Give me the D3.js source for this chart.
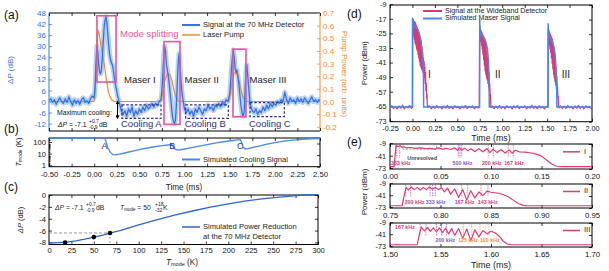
<!DOCTYPE html>
<html><head><meta charset="utf-8">
<script src="https://cdn.jsdelivr.net/npm/d3@7"></script>
<style>body{margin:0;background:#fff} svg{display:block;font-family:"Liberation Sans",Arial,Helvetica,sans-serif}</style>
</head><body><svg id="c" width="609" height="271"></svg>
<script>
// ---------------- DATA ----------------
// (a) 70 MHz detector signal [time ms, dB]
const sigA = [
[-0.50,0.5],[-0.48,1.5],[-0.46,-0.5],[-0.44,1],[-0.42,-1.5],[-0.40,0.5],[-0.38,2],[-0.36,0],[-0.34,-1],[-0.32,1.5],[-0.30,-0.5],[-0.28,2.5],[-0.26,0],[-0.24,-2],[-0.22,1],[-0.20,-1],[-0.18,0.5],[-0.16,-1.5],[-0.14,1],[-0.12,2],[-0.10,-0.5],[-0.08,0.5],[-0.06,-1],[-0.04,1.5],[-0.02,3],[0.00,2],
[0.01,8],[0.02,20],[0.03,30],[0.04,27],[0.05,20],[0.06,16],[0.07,15],[0.08,17],[0.09,24],[0.10,32],[0.11,40],[0.12,44],[0.13,46],[0.14,43],[0.15,37],[0.16,31],[0.17,26],[0.18,23],[0.19,21],[0.20,20],[0.21,18],[0.22,14],[0.24,8],[0.26,3],[0.28,-1],[0.30,-5],[0.32,-7],
[0.34,-5],[0.36,-8],[0.38,-4],[0.40,-6],[0.42,-3],[0.44,-8],[0.46,-5],[0.48,-7],[0.50,-4],[0.52,-6],[0.54,-3],[0.56,-5],[0.58,-2],[0.60,-4],[0.62,-3],[0.64,-1],[0.66,-3],[0.68,-1],[0.70,-2],[0.72,0],[0.74,1],
[0.75,6],[0.76,15],[0.77,24],[0.78,30],[0.79,27],[0.80,20],[0.81,17],[0.82,14],[0.83,10],[0.84,5],[0.85,0],[0.86,-5],[0.87,-9],[0.88,-11],[0.89,-12],[0.90,-10],[0.91,-2],[0.92,10],[0.93,20],[0.94,26],[0.95,20],[0.96,12],[0.97,6],[0.98,2],[0.99,-1],[1.00,-4],
[1.02,-6],[1.04,-4],[1.06,-7],[1.08,-5],[1.10,-8],[1.12,-4],[1.14,-6],[1.16,-3],[1.18,-5],[1.20,-7],[1.22,-4],[1.24,-5],[1.26,-2],[1.28,-4],[1.30,-3],[1.32,-5],[1.34,-2],[1.36,-3],[1.38,-1],[1.40,-3],[1.42,0],[1.44,-2],[1.46,1],[1.48,0],
[1.50,4],[1.51,10],[1.52,18],[1.53,24],[1.54,28],[1.55,24],[1.56,18],[1.57,16],[1.58,17],[1.59,14],[1.60,10],[1.61,5],[1.62,0],[1.63,-4],[1.64,-7],[1.65,-8],[1.66,-6],[1.67,5],[1.68,16],[1.69,20],[1.70,14],[1.71,8],[1.72,2],[1.73,-2],[1.75,-5],
[1.77,-6],[1.79,-4],[1.81,-7],[1.83,-5],[1.85,-6],[1.87,-3],[1.89,-5],[1.91,-2],[1.93,-4],[1.95,-1],[1.97,-3],[1.99,-1],[2.01,-2],[2.03,0],[2.05,-1],[2.07,1],[2.09,0],[2.11,5],[2.13,1],[2.15,-1],[2.17,2],[2.19,0],[2.21,1],[2.23,-1],[2.25,2],[2.27,0],[2.29,1.5],[2.31,-0.5],[2.33,2],[2.35,0.5],[2.37,-1],[2.39,1],[2.41,2.5],[2.43,0],[2.45,1],[2.47,-0.5],[2.49,1],[2.50,0.5]];
// (a) laser pump [time ms, arb. units]
const pumpA = [[-0.5,0],[0,0],[0.01,0.07],[0.02,0.26],[0.03,0.44],[0.04,0.54],[0.05,0.555],[0.06,0.51],[0.07,0.47],[0.08,0.42],[0.10,0.35],[0.12,0.25],[0.14,0.15],[0.16,0.07],[0.18,0.03],[0.20,0.01],[0.22,0],[0.74,0],[0.76,0.07],[0.78,0.16],[0.80,0.205],[0.82,0.22],[0.84,0.21],[0.86,0.17],[0.88,0.10],[0.90,0.045],[0.92,0.015],[0.94,0],[1.49,0],[1.51,0.07],[1.53,0.17],[1.55,0.22],[1.57,0.233],[1.59,0.2],[1.61,0.145],[1.63,0.075],[1.65,0.03],[1.67,0.008],[1.69,0],[2.5,0]];
// (a) mode splitting boxes [t0,t1,top,bottom] in dB
const modeBoxes = [[0.031,0.242,46.5,10.6],[0.773,0.95,32.5,-12.4],[1.537,1.68,28.4,-8.3]];
// (a) cooling windows
const coolBoxes = [[0.308,0.74,-1.8,-9.2,'Cooling A'],[1.013,1.485,-1.8,-9.2,'Cooling B'],[1.725,2.105,-0.6,-8.2,'Cooling C']];
const maserLabels = [['Maser I',0.33],['Maser II',1.0],['Maser III',1.72]];
const leftTicksA = [-12,-6,0,6,12,18,24,30,36,42,48];
const rightTicksA = [-0.2,-0.1,0,0.1,0.2,0.3,0.4,0.5,0.6,0.7];
const timeTicks = [-0.5,-0.25,0,0.25,0.5,0.75,1,1.25,1.5,1.75,2,2.25,2.5];
// (b) simulated cooling, T_mode (K)
const coolT = [[-0.5,290],[0.12,290],[0.13,150],[0.15,45],[0.18,17],[0.21,11],[0.24,10.5],[0.28,12],[0.35,16],[0.45,24],[0.55,36],[0.65,50],[0.75,65],[0.86,82],[0.875,55],[0.89,35],[0.92,27],[0.96,29],[1.05,40],[1.15,58],[1.25,82],[1.35,112],[1.45,150],[1.55,190],[1.62,215],[1.635,100],[1.65,48],[1.67,34],[1.70,36],[1.8,55],[1.9,85],[2.0,120],[2.1,160],[2.2,195],[2.3,225],[2.4,250],[2.5,268]];
const coolLetters = [['A',0.08],['B',0.83],['C',1.58]];
// (c) power reduction vs T_mode
const redCurve = [[0,-8.1],[10,-8.05],[20,-7.95],[30,-7.75],[40,-7.45],[50,-7.1],[60,-6.75],[70,-6.35],[80,-5.95],[90,-5.5],[100,-5.05],[120,-4.2],[140,-3.4],[160,-2.7],[180,-2.05],[200,-1.5],[220,-1.0],[240,-0.6],[260,-0.3],[280,-0.05],[300,0.1]];
const redPts = [[18,-8.0],[50,-7.1],[68,-6.4]];
const tTicksC = [0,25,50,75,100,125,150,175,200,225,250,275,300];
const yTicksC = [0,-2,-4,-6,-8];
// (d) wideband detector (measured) and simulated maser
const pinkD = [[-0.25,-65.5],[-0.23,-64.2],[-0.21,-65.8],[-0.19,-64.6],[-0.17,-66],[-0.15,-64.4],[-0.13,-65.6],[-0.11,-64],[-0.09,-65.9],[-0.07,-64.7],[-0.05,-65.4],[-0.03,-64.1],[-0.01,-65.7],[0.0,-65],
[0.002,-18],[0.006,-24],[0.01,-17],[0.014,-26],[0.018,-19],[0.022,-28],[0.026,-18],[0.03,-30],[0.034,-19],[0.038,-31],[0.042,-20],[0.046,-33],[0.05,-21],[0.054,-34],[0.058,-22],[0.062,-36],[0.066,-23],[0.07,-38],[0.074,-24],[0.078,-40],[0.082,-26],[0.086,-42],[0.09,-27],[0.094,-43],[0.098,-29],[0.102,-44],[0.106,-32],[0.11,-45],[0.114,-35],[0.118,-46],[0.122,-38],[0.126,-47],[0.13,-40],[0.134,-49],[0.138,-43],[0.142,-52],[0.146,-46],[0.15,-56],[0.154,-52],[0.158,-60],[0.162,-58],[0.166,-64],[0.17,-65.2],
[0.19,-64.3],[0.21,-65.9],[0.23,-64.5],[0.25,-65.6],[0.27,-64.2],[0.29,-65.3],[0.31,-64.8],[0.33,-66],[0.35,-64.4],[0.37,-65.5],[0.39,-64.1],[0.41,-65.7],[0.43,-64.6],[0.45,-65.9],[0.47,-64.3],[0.49,-65.2],[0.51,-64.6],[0.53,-66],[0.55,-64.5],[0.57,-65.4],[0.59,-64.2],[0.61,-65.8],[0.63,-64.7],[0.65,-65.3],[0.67,-64.4],[0.69,-65.9],[0.71,-64.8],[0.73,-65.5],[0.745,-65],
[0.749,-20],[0.753,-27],[0.757,-22],[0.761,-29],[0.765,-23],[0.769,-31],[0.773,-24],[0.777,-33],[0.781,-25],[0.785,-36],[0.789,-26],[0.793,-39],[0.797,-27],[0.801,-42],[0.805,-28],[0.809,-45],[0.813,-30],[0.817,-47],[0.821,-32],[0.825,-49],[0.829,-35],[0.833,-50],[0.837,-38],[0.841,-52],[0.845,-42],[0.849,-54],[0.853,-46],[0.857,-56],[0.861,-52],[0.865,-59],[0.869,-58],[0.873,-64],[0.877,-65.3],
[0.89,-64.4],[0.91,-65.8],[0.93,-64.5],[0.95,-65.5],[0.97,-64.1],[0.99,-65.7],[1.01,-64.6],[1.03,-65.9],[1.05,-64.3],[1.07,-65.3],[1.09,-64.7],[1.11,-66],[1.13,-64.4],[1.15,-65.4],[1.17,-64.2],[1.19,-65.8],[1.21,-64.6],[1.23,-65.3],[1.25,-64.4],[1.27,-65.9],[1.29,-64.8],[1.31,-65.5],[1.33,-64.1],[1.35,-65.6],[1.37,-64.5],[1.39,-65.8],[1.41,-64.3],[1.43,-65.4],[1.45,-64.7],[1.47,-65.9],[1.49,-64.6],[1.508,-65],
[1.512,-22],[1.516,-29],[1.52,-23],[1.524,-31],[1.528,-24],[1.532,-33],[1.536,-25],[1.54,-35],[1.544,-26],[1.548,-38],[1.552,-27],[1.556,-41],[1.56,-28],[1.564,-44],[1.568,-30],[1.572,-47],[1.576,-32],[1.58,-49],[1.584,-35],[1.588,-51],[1.592,-39],[1.596,-53],[1.6,-43],[1.604,-55],[1.608,-48],[1.612,-57],[1.616,-54],[1.62,-60],[1.624,-59],[1.628,-64],[1.632,-65.4],
[1.65,-64.3],[1.67,-65.7],[1.69,-64.5],[1.71,-65.6],[1.73,-64.2],[1.75,-65.3],[1.77,-64.8],[1.79,-66],[1.81,-64.4],[1.83,-65.5],[1.85,-64.1],[1.87,-65.7],[1.89,-64.6],[1.91,-65.9],[1.93,-64.3],[1.95,-65.2],[1.97,-64.6],[1.99,-65.6],[2.0,-65]];
const blueD = [[-0.25,-65],[0,-65],[0.001,-16],[0.006,-19],[0.012,-21],[0.02,-20],[0.035,-20.5],[0.05,-21.5],[0.065,-23],[0.08,-25.5],[0.095,-29],[0.105,-33],[0.115,-39],[0.122,-47],[0.125,-65],[0.748,-65],[0.749,-17],[0.755,-24],[0.765,-25],[0.78,-25.5],[0.80,-27],[0.82,-29.5],[0.835,-33],[0.846,-39],[0.853,-48],[0.856,-65],[1.511,-65],[1.512,-19],[1.518,-26],[1.526,-27],[1.54,-27.5],[1.56,-29],[1.575,-32],[1.588,-36],[1.598,-43],[1.606,-52],[1.609,-65],[2.0,-65]];
const romanD = [['I',0.19],['II',0.95],['III',1.71]];
const timeTicksD = [-0.25,0,0.25,0.5,0.75,1,1.25,1.5,1.75,2];
const powTicks = [-73,-65,-57,-49,-41,-33,-25,-17,-9];
// (e) zoomed maser pulses
const sigE1 = [[0,-67],[0.004,-67],[0.005,-40],[0.006,-12],[0.008,-16],[0.010,-13],[0.012,-18],[0.014,-16],[0.016,-19],[0.02,-18],[0.025,-20],[0.03,-19],[0.035,-21],[0.04,-20],[0.044,-22],[0.048,-19],[0.052,-22],[0.056,-20],[0.06,-23],[0.064,-19],[0.067,-25],[0.069,-19],[0.071,-25],[0.074,-20],[0.077,-26],[0.08,-21],[0.084,-28],[0.088,-21],[0.092,-29],[0.096,-21],[0.099,-31],[0.102,-22],[0.106,-31],[0.11,-23],[0.114,-32],[0.118,-24],[0.121,-33],[0.124,-25],[0.128,-29],[0.134,-30],[0.14,-32],[0.145,-35],[0.15,-40],[0.155,-50],[0.16,-60],[0.165,-66],[0.17,-67],[0.2,-67]];
const sigE2 = [[0.75,-67],[0.762,-67],[0.764,-40],[0.766,-18],[0.768,-25],[0.771,-17],[0.774,-24],[0.777,-18],[0.78,-25],[0.783,-18],[0.786,-24],[0.789,-17],[0.792,-23],[0.795,-18],[0.798,-24],[0.801,-19],[0.804,-30],[0.807,-20],[0.81,-36],[0.814,-22],[0.818,-45],[0.822,-24],[0.826,-52],[0.830,-27],[0.834,-46],[0.838,-30],[0.842,-40],[0.846,-28],[0.850,-31],[0.856,-33],[0.862,-37],[0.867,-43],[0.872,-52],[0.877,-61],[0.882,-66],[0.886,-67],[0.95,-67]];
const sigE3 = [[1.5,-67],[1.527,-67],[1.529,-40],[1.531,-20],[1.534,-30],[1.537,-21],[1.540,-31],[1.543,-22],[1.546,-33],[1.549,-22],[1.552,-35],[1.555,-23],[1.558,-38],[1.561,-24],[1.564,-42],[1.568,-24],[1.572,-50],[1.576,-25],[1.580,-56],[1.584,-27],[1.588,-46],[1.592,-29],[1.596,-38],[1.600,-31],[1.604,-35],[1.608,-44],[1.612,-57],[1.616,-65],[1.62,-67],[1.7,-67]];
const markE1 = [[0.0066,'p'],[0.0096,'p'],[0.0677,'v'],[0.0693,'v'],[0.071,'v'],[0.0973,'p'],[0.1023,'p'],[0.1171,'p'],[0.1221,'p']];
const markE2 = [[0.7655,'p'],[0.7705,'p'],[0.7896,'v'],[0.7922,'v'],[0.7948,'v'],[0.821,'p'],[0.827,'p'],[0.840,'p'],[0.847,'p']];
const markE3 = [[1.5297,'p'],[1.5356,'p'],[1.546,'v'],[1.551,'v'],[1.556,'v'],[1.5726,'o'],[1.581,'o'],[1.589,'o'],[1.598,'o']];
const freqE1 = [['333 kHz',0.001,'p'],['500 kHz',0.062,'v'],['200 kHz',0.091,'p'],['167 kHz',0.113,'p']];
const freqE2 = [['200 kHz',0.7645,'p'],['333 kHz',0.7855,'v'],['167 kHz',0.814,'p'],['143 kHz',0.837,'p']];
const freqE3 = [['167 kHz',1.505,'p'],['200 kHz',1.545,'v'],['125 kHz',1.5675,'o'],['100 kHz',1.589,'o']];

// ---------------- DRAWING ----------------
const FONT='"Liberation Sans", Arial, Helvetica, sans-serif';
const BLUE='#3672e3', BLUE_L='#a7c6f4', BLUE_B='#4489ee', ORANGE='#f08a2a', PINK='#e0579e', NAVY='#2e2d86', RED='#dc3a74';
const MK={p:'#e0569a',v:'#9a5cd0',o:'#f29a3c'};
const MKT={p:'#d13a82',v:'#8a52c4',o:'#f0903a'};
const svg=d3.select('#c').attr('font-family',FONT);
const defs=svg.append('defs');
let clipN=0;
function clip(x0,y0,x1,y1){const id='cl'+(clipN++);defs.append('clipPath').attr('id',id).append('rect').attr('x',x0).attr('y',y0).attr('width',x1-x0).attr('height',y1-y0);return 'url(#'+id+')';}
function txt(x,y,s,o={}){const t=svg.append('text').attr('x',x).attr('y',y).text(s).attr('font-size',o.size||8).attr('fill',o.fill||'#222').attr('text-anchor',o.anchor||'start').attr('dominant-baseline',o.base||'middle');if(o.rot)t.attr('transform',`rotate(${o.rot},${x},${y})`);if(o.weight)t.attr('font-weight',o.weight);if(o.italic)t.attr('font-style','italic');return t;}
function ax(gen,x,y,o={}){const g=svg.append('g').attr('transform',`translate(${x},${y})`).call(gen);g.select('.domain').remove();g.selectAll('text').attr('font-size',o.size||7.5).attr('fill',o.color||'#111').attr('font-family',FONT);g.selectAll('line').attr('stroke',o.tick||'#000').attr('stroke-width',0.8);return g;}
function frameRect(x0,y0,x1,y1){svg.append('rect').attr('x',x0).attr('y',y0).attr('width',x1-x0).attr('height',y1-y0).attr('fill','none').attr('stroke','#000').attr('stroke-width',1);}
const fmt2=d=>d.toFixed(2), fmt1=d=>d.toFixed(1), fmt0=d=>String(d);

// ===== panel (a)
const aL=49,aR=320,aT=13,aB=131;
const xA=d3.scaleLinear().domain([-0.5,2.5]).range([aL,aR]);
const yA=d3.scaleLinear().domain([-16,48]).range([aB,aT]);
const yA2=d3.scaleLinear().domain([-16*0.7/48,0.7]).range([aB,aT]);
const ca=clip(aL,aT,aR,aB);
svg.append('line').attr('x1',aL).attr('x2',aR).attr('y1',aT).attr('y2',aT).attr('stroke','#000');
svg.append('line').attr('x1',aL).attr('x2',aR).attr('y1',aB).attr('y2',aB).attr('stroke','#000');
svg.append('line').attr('x1',aL).attr('x2',aL).attr('y1',aT).attr('y2',aB).attr('stroke',BLUE);
svg.append('line').attr('x1',aR).attr('x2',aR).attr('y1',aT).attr('y2',aB).attr('stroke',ORANGE);
ax(d3.axisTop(xA).tickValues(timeTicks).tickSize(-3).tickFormat(''),0,aT);
ax(d3.axisBottom(xA).tickValues(timeTicks).tickSize(-3).tickFormat(''),0,aB);
ax(d3.axisLeft(yA).tickValues(leftTicksA).tickSize(-3).tickPadding(3).tickFormat(fmt0),aL,0,{color:BLUE,tick:BLUE,size:8});
ax(d3.axisRight(yA2).tickValues(rightTicksA).tickSize(-3).tickPadding(3).tickFormat(fmt1),aR,0,{color:ORANGE,tick:ORANGE,size:8});
const lineA=d3.line().x(d=>xA(d[0])).y(d=>yA(d[1]));
const lineP=d3.line().x(d=>xA(d[0])).y(d=>yA2(d[1]));
const gA=svg.append('g').attr('clip-path',ca);
gA.append('path').attr('d',lineA(sigA)).attr('fill','none').attr('stroke',BLUE_L).attr('stroke-width',5).attr('stroke-linejoin','round').attr('opacity',0.8);
gA.append('path').attr('d',lineP(pumpA)).attr('fill','none').attr('stroke',ORANGE).attr('stroke-width',1.2);
gA.append('path').attr('d',lineA(sigA)).attr('fill','none').attr('stroke',BLUE).attr('stroke-width',1.3).attr('stroke-linejoin','round');
modeBoxes.forEach(b=>gA.append('rect').attr('x',xA(b[0])).attr('y',yA(b[2])).attr('width',xA(b[1])-xA(b[0])).attr('height',yA(b[3])-yA(b[2])).attr('fill','none').attr('stroke',PINK).attr('stroke-width',1.6));
coolBoxes.forEach(b=>{gA.append('rect').attr('x',xA(b[0])).attr('y',yA(b[2])).attr('width',xA(b[1])-xA(b[0])).attr('height',yA(b[3])-yA(b[2])).attr('fill','none').attr('stroke',NAVY).attr('stroke-width',1.2).attr('stroke-dasharray','2.5,1.8');
 txt(xA(b[0])-1,124.5,b[4],{size:9.5,fill:NAVY});});
maserLabels.forEach(m=>txt(xA(m[1]),80,m[0],{size:9.5,fill:'#222'}));
txt(120,34,'Mode splitting',{size:9.5,fill:PINK});
svg.append('line').attr('x1',182).attr('x2',200).attr('y1',25).attr('y2',25).attr('stroke',BLUE).attr('stroke-width',2);
txt(203,25,'Signal at the 70 MHz Detector',{size:7.6});
svg.append('line').attr('x1',182).attr('x2',200).attr('y1',35).attr('y2',35).attr('stroke',ORANGE).attr('stroke-width',1.5);
txt(203,35,'Laser Pump',{size:7.6});
txt(57,113,'Maximum cooling:',{size:6.8,fill:'#111'});
const mc=txt(58,125,'',{size:6.8,fill:'#111'});
mc.append('tspan').attr('font-style','italic').text('\u0394P');
mc.append('tspan').text(' = -7.1');
txt(89,121.5,'+0.7',{size:5,fill:'#111'});
txt(89,128,'-0.9',{size:5,fill:'#111'});
txt(99,125,'dB',{size:6.8,fill:'#111'});
defs.append('marker').attr('id','ah').attr('viewBox','0 0 6 6').attr('refX',3).attr('refY',3).attr('markerWidth',4).attr('markerHeight',4).attr('orient','auto-start-reverse').append('path').attr('d','M0,0L6,3L0,6Z').attr('fill','#000');
svg.append('line').attr('x1',117.5).attr('x2',117.5).attr('y1',yA(-0.5)).attr('y2',yA(-8.5)).attr('stroke','#000').attr('stroke-width',1).attr('marker-start','url(#ah)').attr('marker-end','url(#ah)');
txt(11,70,'\u0394P (dB)',{size:8,fill:BLUE,anchor:'middle',rot:-90});
txt(344,74,'Pump Power (arb. units)',{size:8,fill:ORANGE,anchor:'middle',rot:90});
txt(4,16,'(a)',{size:12,fill:'#111'});

// ===== panel (b)
const bT=138,bB=166.7;
const yB=d3.scaleLog().domain([1,300]).range([bB,bT]);
frameRect(aL,bT,aR,bB);
ax(d3.axisTop(xA).tickValues(timeTicks).tickSize(-3).tickFormat(''),0,bT);
ax(d3.axisBottom(xA).tickValues(timeTicks).tickSize(-3).tickPadding(4.5).tickFormat(fmt2),0,bB,{size:7.6});
ax(d3.axisLeft(yB).tickValues([1,10,100]).tickSize(-3).tickPadding(3).tickFormat(fmt0),aL,-1.5,{size:7.6});
ax(d3.axisLeft(yB).tickValues([2,3,4,5,6,7,8,9,20,30,40,50,60,70,80,90,200,300]).tickSize(-1.5).tickFormat(''),aL,0);
ax(d3.axisRight(yB).tickValues([1,10,100]).tickSize(-3).tickFormat(''),aR,0);
const lineB=d3.line().x(d=>xA(d[0])).y(d=>yB(d[1]));
svg.append('g').attr('clip-path',clip(aL,bT,aR,bB)).append('path').attr('d',lineB(coolT)).attr('fill','none').attr('stroke',BLUE_B).attr('stroke-width',1.3);
coolLetters.forEach(c=>txt(xA(c[1]),146.5,c[0],{size:9,fill:NAVY}));
svg.append('line').attr('x1',182).attr('x2',200).attr('y1',159.5).attr('y2',159.5).attr('stroke',BLUE_B).attr('stroke-width',2);
txt(203,159.5,'Simulated Cooling Signal',{size:7.6});
txt(184,188,'Time (ms)',{size:8.2,anchor:'middle'});
const tb=txt(19,152,'',{size:7.5,anchor:'middle',rot:-90});
tb.append('tspan').attr('font-style','italic').text('T');tb.append('tspan').attr('font-size',5).attr('dy',1.5).text('mode');tb.append('tspan').attr('dy',-1.5).text(' (K)');
txt(4,130,'(b)',{size:12,fill:'#111'});

// ===== panel (c)
const cL=49,cR=318,cT=195,cB=244.5;
const xC=d3.scaleLinear().domain([0,300]).range([cL,cR]);
const yC=d3.scaleLinear().domain([-8.35,0]).range([cB,cT]);
frameRect(cL,cT,cR,cB);
ax(d3.axisBottom(xC).tickValues(tTicksC).tickSize(-3).tickPadding(3.5).tickFormat(fmt0),0,cB,{size:7.6});
ax(d3.axisTop(xC).tickValues(tTicksC).tickSize(-3).tickFormat(''),0,cT);
ax(d3.axisLeft(yC).tickValues(yTicksC).tickSize(-3).tickPadding(3).tickFormat(fmt0),cL,0,{size:7.6});
ax(d3.axisRight(yC).tickValues(yTicksC).tickSize(-3).tickFormat(''),cR,0);
const gC=svg.append('g').attr('clip-path',clip(cL,cT-1,cR,cB));
gC.append('line').attr('x1',xC(0)).attr('x2',xC(18)).attr('y1',yC(-8.0)).attr('y2',yC(-8.0)).attr('stroke','#999').attr('stroke-dasharray','3,2');
gC.append('line').attr('x1',xC(0)).attr('x2',xC(68)).attr('y1',yC(-6.4)).attr('y2',yC(-6.4)).attr('stroke','#999').attr('stroke-dasharray','3,2');
gC.append('line').attr('x1',xC(68)).attr('x2',xC(68)).attr('y1',yC(-6.4)).attr('y2',yC(-8.35)).attr('stroke','#999').attr('stroke-dasharray','2,2');
const lineC=d3.line().x(d=>xC(d[0])).y(d=>yC(d[1]));
gC.append('path').attr('d',lineC(redCurve)).attr('fill','none').attr('stroke','#2a66d6').attr('stroke-width',1.3);
redPts.forEach(p=>gC.append('circle').attr('cx',xC(p[0])).attr('cy',yC(p[1])).attr('r',2.3).attr('fill','#000'));
const c1=txt(55,208,'',{size:6.8});c1.append('tspan').attr('font-style','italic').text('\u0394P');c1.append('tspan').text('  = -7.1');
txt(86,204.5,'+0.7',{size:5});txt(86,211,'-0.9',{size:5});txt(96,208,'dB',{size:6.8});
const c2=txt(120,208,'',{size:6.8});c2.append('tspan').attr('font-style','italic').text('T');c2.append('tspan').attr('font-size',4.5).attr('dy',1.5).text('mode');c2.append('tspan').attr('dy',-1.5).text(' = 50');
txt(155,204.5,'+18',{size:5});txt(155,211,'-32',{size:5});txt(163,208,'K',{size:6.8});
svg.append('line').attr('x1',182).attr('x2',200).attr('y1',227).attr('y2',227).attr('stroke','#2a66d6').attr('stroke-width',1.5);
txt(203,227,'Simulated Power Reduction',{size:7.6});
txt(203,237,'at the 70 MHz Detector',{size:7.6});
const tc=txt(182,263,'',{size:8.2,anchor:'middle'});
tc.append('tspan').attr('font-style','italic').text('T');tc.append('tspan').attr('font-size',5.5).attr('dy',1.5).text('mode');tc.append('tspan').attr('dy',-1.5).text(' (K)');
const dc=txt(21,220,'',{size:7.5,anchor:'middle',rot:-90});dc.append('tspan').attr('font-style','italic').text('\u0394P');dc.append('tspan').text(' (dB)');
txt(4,188,'(c)',{size:12,fill:'#111'});

// ===== panel (d)
const dL=390,dR=592,dT=5,dB=121.7;
const xD=d3.scaleLinear().domain([-0.25,2.0]).range([dL,dR]);
const yD=d3.scaleLinear().domain([-73,-9]).range([dB,dT]);
frameRect(dL,dT,dR,dB);
ax(d3.axisBottom(xD).tickValues(timeTicksD).tickSize(-3).tickPadding(3.8).tickFormat(fmt2),0,dB,{size:7.2});
ax(d3.axisTop(xD).tickValues(timeTicksD).tickSize(-3).tickFormat(''),0,dT);
ax(d3.axisLeft(yD).tickValues(powTicks).tickSize(-3).tickPadding(3.5).tickFormat(fmt0),dL,-0.8,{size:7.2});
ax(d3.axisRight(yD).tickValues(powTicks).tickSize(-3).tickFormat(''),dR,0);
const lineD=d3.line().x(d=>xD(d[0])).y(d=>yD(d[1]));
const gD=svg.append('g').attr('clip-path',clip(dL,dT,dR,dB));
gD.append('path').attr('d',lineD(pinkD)).attr('fill','none').attr('stroke',RED).attr('stroke-width',1.3).attr('stroke-linejoin','round');
gD.append('path').attr('d',lineD(blueD)).attr('fill','none').attr('stroke',BLUE_B).attr('stroke-width',1.5);
romanD.forEach(r=>txt(xD(r[1]),75,r[0],{size:10,fill:'#222',anchor:'middle'}));
svg.append('line').attr('x1',423).attr('x2',442).attr('y1',11).attr('y2',11).attr('stroke',RED).attr('stroke-width',2);
txt(445,11,'Signal at the Wideband Detector',{size:7.1});
svg.append('line').attr('x1',423).attr('x2',442).attr('y1',18.5).attr('y2',18.5).attr('stroke',BLUE_B).attr('stroke-width',2);
txt(445,18.5,'Simulated Maser Signal',{size:7.1});
txt(491,138.5,'Time (ms)',{size:8.8,anchor:'middle'});
txt(365,63,'Power (dBm)',{size:7.5,anchor:'middle',rot:-90});
txt(347,15,'(d)',{size:12,fill:'#111'});

// ===== panel (e)
const eSubs=[
 {dom:[0,0.2],top:144,bot:169,sig:sigE1,mk:markE1,fr:freqE1,fy:[-58,-58,-58,-58],name:'I',ly:-29},
 {dom:[0.75,0.95],top:184,bot:208,sig:sigE2,mk:markE2,fr:freqE2,fy:[-58,-58,-58,-58],name:'II',ly:-29},
 {dom:[1.5,1.7],top:223,bot:247,sig:sigE3,mk:markE3,fr:freqE3,fy:[-20,-56,-56,-56],name:'III',ly:-29}];
const eTicks=[-73,-41,-9];
eSubs.forEach(s=>{
 const x=d3.scaleLinear().domain(s.dom).range([dL,dR]);
 const y=d3.scaleLinear().domain([-73,-9]).range([s.bot,s.top]);
 const tk=d3.range(5).map(i=>s.dom[0]+i*0.05);
 frameRect(dL,s.top,dR,s.bot);
 ax(d3.axisBottom(x).tickValues(tk).tickSize(-3).tickPadding(4).tickFormat(fmt2),0,s.bot,{size:7.8});
 ax(d3.axisTop(x).tickValues(tk).tickSize(-3).tickFormat(''),0,s.top);
 ax(d3.axisLeft(y).tickValues(eTicks).tickSize(-3).tickPadding(4).tickFormat(fmt0),dL,-0.8,{size:7.2});
 ax(d3.axisRight(y).tickValues(eTicks).tickSize(-3).tickFormat(''),dR,0);
 const g=svg.append('g').attr('clip-path',clip(dL,s.top,dR,s.bot));
 s.mk.forEach(m=>g.append('line').attr('x1',x(m[0])).attr('x2',x(m[0])).attr('y1',y(-11)).attr('y2',y(-44)).attr('stroke',MK[m[1]]).attr('stroke-width',0.8).attr('stroke-dasharray','1.5,1'));
 const ln=d3.line().x(d=>x(d[0])).y(d=>y(d[1]));
 g.append('path').attr('d',ln(s.sig)).attr('fill','none').attr('stroke',RED).attr('stroke-width',1.2).attr('stroke-linejoin','round');
 s.fr.forEach((f,i)=>txt(x(f[1]),y(s.fy[i]),f[0],{size:5.3,fill:MKT[f[2]],weight:'bold'}));
 const ly=y(s.ly);
 svg.append('line').attr('x1',563).attr('x2',580).attr('y1',ly).attr('y2',ly).attr('stroke',RED).attr('stroke-width',1.5);
 txt(584,ly,s.name,{size:7.5});
 if(s.name==='I'){
  g.append('rect').attr('x',x(0.013)).attr('y',y(-10)).attr('width',x(0.046)-x(0.013)).attr('height',y(-22)-y(-10)).attr('fill','none').attr('stroke','#888').attr('stroke-width',0.8).attr('stroke-dasharray','2,1.5');
  txt(x(0.017),y(-45),'Unresolved',{size:5.5,fill:'#444',weight:'bold'});
 }
});
txt(491,266,'Time (ms)',{size:9,anchor:'middle'});
txt(365,192,'Power (dBm)',{size:8,anchor:'middle',rot:-90});
txt(347,143,'(e)',{size:12,fill:'#111'});
</script></body></html>
